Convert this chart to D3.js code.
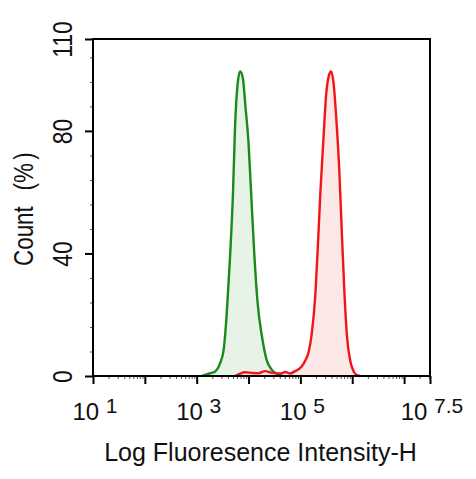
<!DOCTYPE html>
<html>
<head>
<meta charset="utf-8">
<script src="https://cdn.jsdelivr.net/npm/d3@7"></script>
<style>
  body { margin: 0; background: #fff; }
  svg { display: block; }
  text { font-family: "Liberation Sans", Arial, sans-serif; fill: #111; }
</style>
</head>
<body>
<div id="chart"></div>
<script>
var margin = { top: 39, right: 46, bottom: 103, left: 93 },
    width = 476,
    height = 479;
var innerWidth = width - margin.left - margin.right;
var innerHeight = height - margin.top - margin.bottom;

// x values are log10 of the intensity, y values are Count (%)
var greenLog = [3.10, 3.26, 3.35, 3.45, 3.52, 3.58, 3.64, 3.70, 3.74, 3.785, 3.838, 3.89, 3.94, 4.00, 4.05, 4.11, 4.17, 4.26, 4.35, 4.45, 4.56, 4.65];
var greenCount = [0, 0.9, 1.4, 4.1, 8.5, 20.5, 37.9, 59.7, 81.5, 94.5, 99.4, 97.3, 88, 76, 59.7, 40.1, 24.8, 12.8, 5.2, 2.0, 0.6, 0];

var redLog = [3.74, 3.84, 3.93, 4.07, 4.19, 4.32, 4.46, 4.61, 4.71, 4.80, 4.90, 5.02, 5.10, 5.16, 5.22, 5.29, 5.34, 5.385, 5.44, 5.50, 5.546, 5.592, 5.64, 5.69, 5.75, 5.80, 5.85, 5.90, 5.965, 6.03, 6.09, 6.15];
var redCount = [0, 0.8, 1.2, 1.0, 0.9, 1.6, 1.0, 0.8, 1.3, 0.8, 1.6, 3.0, 5.2, 7.9, 13.9, 27, 43.4, 59.7, 76, 92.4, 97.8, 99.4, 95.6, 84.7, 67.3, 46.6, 27, 12.8, 4.7, 1.4, 0.3, 0];

var xLabelExp = ["1", "3", "5", "7.5"];
var xMajorExp = [1, 2, 3, 4, 5, 6, 7, 7.5];
var yMajor = [0, 40, 80, 110];
var yMinor = [8, 16, 24, 32, 48, 56, 64, 72, 88, 96, 104];

var x = d3.scaleLog()
    .domain([10, Math.pow(10, 7.5)])
    .range([0, innerWidth]);

var y = d3.scaleLinear()
    .domain([0, 110])
    .range([innerHeight, 0]);

var svg = d3.select("#chart")
    .append("svg")
    .attr("width", width)
    .attr("height", height)
    .append("g")
    .attr("transform", "translate(" + margin.left + "," + margin.top + ")");

var area = d3.area()
    .x(d => x(Math.pow(10, d[0])))
    .y0(innerHeight)
    .y1(d => y(d[1]))
    .curve(d3.curveMonotoneX);

var line = d3.line()
    .x(d => x(Math.pow(10, d[0])))
    .y(d => y(d[1]))
    .curve(d3.curveMonotoneX);

var series = [
    { log: greenLog, count: greenCount, stroke: "#1a8a1a", fill: "#e6f2e6" },
    { log: redLog, count: redCount, stroke: "#f01519", fill: "#fde5e6" }
];

series.forEach(s => {
    var pts = s.log.map((v, i) => [v, s.count[i]]);
    svg.append("path").datum(pts)
        .attr("d", area)
        .attr("fill", s.fill)
        .attr("opacity", 0.9);
});
series.forEach(s => {
    var pts = s.log.map((v, i) => [v, s.count[i]]);
    svg.append("path").datum(pts)
        .attr("d", line)
        .attr("fill", "none")
        .attr("stroke", s.stroke)
        .attr("stroke-width", 2.4);
});

// minor x ticks (2..9 of every decade)
var xMinor = [];
for (var e = 1; e <= 7; e++) {
    for (var k = 2; k <= 9; k++) {
        if (Math.log10(k) + e < 7.5) xMinor.push(k * Math.pow(10, e));
    }
}

svg.append("g")
    .attr("transform", "translate(0," + innerHeight + ")")
    .call(d3.axisBottom(x).tickValues(xMinor).tickSize(3).tickFormat(""))
    .call(g => g.select(".domain").remove())
    .call(g => g.selectAll("text").remove())
    .selectAll("line").attr("stroke", "#555").attr("stroke-width", 1);

var xAxis = svg.append("g")
    .attr("transform", "translate(0," + innerHeight + ")")
    .call(d3.axisBottom(x)
        .tickValues(xMajorExp.map(e => Math.pow(10, e)))
        .tickSize(8)
        .tickFormat(""));
xAxis.select(".domain").remove();
xAxis.selectAll("text").remove();
xAxis.selectAll("line").attr("stroke", "#000").attr("stroke-width", 2);

var xLab = svg.append("g")
    .selectAll("text")
    .data(xLabelExp)
    .enter().append("text")
    .attr("x", d => x(Math.pow(10, +d)) + 2)
    .attr("y", innerHeight + 44)
    .attr("text-anchor", "middle")
    .style("font-size", "24px");
xLab.append("tspan").text("10 ");
xLab.append("tspan")
    .attr("dy", -7)
    .style("font-size", "21px")
    .text(d => d);

svg.append("g")
    .call(d3.axisLeft(y).tickValues(yMinor).tickSize(3).tickFormat(""))
    .call(g => g.select(".domain").remove())
    .call(g => g.selectAll("text").remove())
    .selectAll("line").attr("stroke", "#555").attr("stroke-width", 1);

var yAxis = svg.append("g")
    .call(d3.axisLeft(y).tickValues(yMajor).tickSize(8).tickFormat(d3.format("d")));
yAxis.select(".domain").remove();
yAxis.selectAll("line").attr("stroke", "#000").attr("stroke-width", 2);
yAxis.selectAll("text")
    .attr("transform", "rotate(-90) scale(0.85,1)")
    .attr("x", 0)
    .attr("y", -21)
    .attr("dy", 0)
    .attr("text-anchor", "middle")
    .style("font-size", "27px")
    .style("font-family", "Liberation Sans, Arial, sans-serif")
    .attr("fill", "#111");

// frame
svg.append("rect")
    .attr("width", innerWidth)
    .attr("height", innerHeight)
    .attr("fill", "none")
    .attr("stroke", "#000")
    .attr("stroke-width", 2);

svg.append("text")
    .attr("x", innerWidth / 2 - 1)
    .attr("y", innerHeight + 85)
    .attr("text-anchor", "middle")
    .style("font-size", "25px")
    .text("Log Fluoresence Intensity-H");

var yTitle = svg.append("text")
    .attr("transform", "translate(" + (-60) + "," + (227) + ") rotate(-90) scale(0.83,1)")
    .attr("text-anchor", "start")
    .style("font-size", "27px");
yTitle.append("tspan").text("Count");
yTitle.append("tspan").attr("dx", 19).text("(%");
yTitle.append("tspan").attr("dx", 4).text(")");
</script>
</body>
</html>
